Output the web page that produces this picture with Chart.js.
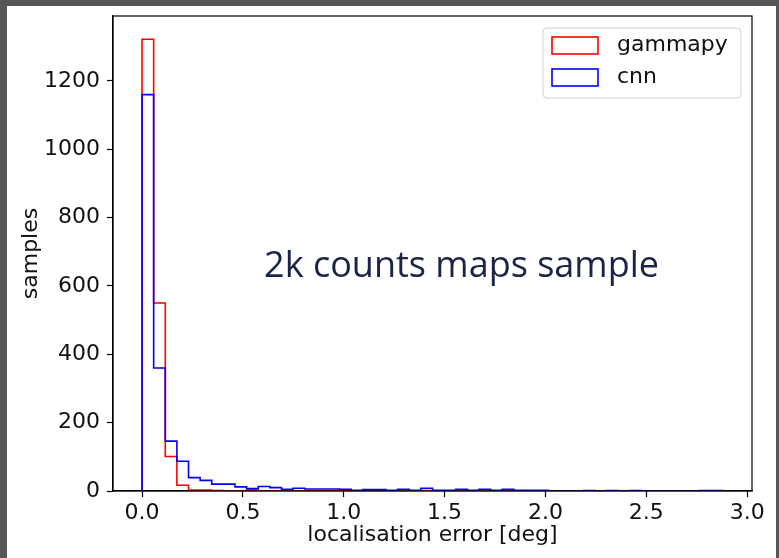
<!DOCTYPE html>
<html>
<head>
<meta charset="utf-8">
<script src="https://cdn.jsdelivr.net/npm/chart.js@4"></script>
<style>
    body { margin: 0; background: #565656; width: 779px; height: 558px; overflow: hidden; }
    #frame { position: absolute; left: 7px; top: 6px; width: 769px; height: 552px; background: #fff; }
</style>
</head>
<body>
<div id="frame"><canvas id="histChart" width="769" height="552"></canvas></div>
<script>
// histogram of localisation error, 50 bins between 0 and 2.88 deg
const binMin = 0;
const binMax = 2.88;
const binCount = 50;

const gammapyCounts = [1322, 550, 101, 17, 3, 3, 1, 0, 0, 3,
    0, 0, 0, 0, 0, 0, 0, 0, 0, 0,
    0, 0, 0, 0, 1, 0, 0, 0, 0, 0,
    0, 0, 0, 0, 0, 0, 0, 0, 0, 0,
    0, 0, 0, 0, 0, 0, 0, 0, 0, 0];
const cnnCounts = [1160, 360, 146, 87, 39, 31, 20, 20, 12, 7,
    13, 10, 5, 8, 6, 6, 6, 5, 2, 4,
    4, 2, 5, 2, 8, 2, 2, 5, 2, 5,
    2, 5, 2, 2, 2, 0, 0, 0, 1, 0,
    1, 0, 1, 0, 0, 0, 0, 0, 1, 1];

const seriesLabels = ['gammapy', 'cnn'];
const seriesColors = ['#ff0000', '#0000ff'];

const xTicks = [0, 0.5, 1.0, 1.5, 2.0, 2.5, 3.0];
const yTicks = [0, 200, 400, 600, 800, 1000, 1200];

const annotationText = '2k counts maps sample';
const annotationPos = { x: 0.605, y: 627 };

// step outline like matplotlib histtype='step'
function stepPoints(counts) {
    const w = (binMax - binMin) / binCount;
    const pts = [{ x: binMin, y: 0 }];
    counts.forEach((c, i) => pts.push({ x: binMin + i * w, y: c }));
    pts.push({ x: binMax, y: 0 });
    return pts;
}

const FONT = 'DejaVu Sans';
const TEXT = '#111';

// frame around the axes + annotation + legend inside the plot
const overlayPlugin = {
    id: 'overlay',
    afterDatasetsDraw(chart) {
        const ctx = chart.ctx;
        const a = chart.chartArea;
        const xs = chart.scales.x, ys = chart.scales.y;
        ctx.save();

        // annotation text
        ctx.fillStyle = '#1b2445';
        ctx.font = '36px "Open Sans"';
        ctx.textAlign = 'left';
        ctx.textBaseline = 'alphabetic';
        ctx.fillText(annotationText, xs.getPixelForValue(annotationPos.x), ys.getPixelForValue(annotationPos.y));

        // spines
        ctx.strokeStyle = '#000';
        ctx.lineWidth = 1.2;
        ctx.strokeRect(a.left, a.top, a.right - a.left, a.bottom - a.top);

        // legend
        const bw = 198, bh = 70;
        const bx = a.right - 11 - bw, by = a.top + 12;
        ctx.beginPath();
        ctx.roundRect(bx, by, bw, bh, 4);
        ctx.fillStyle = 'rgba(255,255,255,0.8)';
        ctx.fill();
        ctx.strokeStyle = '#d0d0d0';
        ctx.lineWidth = 1;
        ctx.stroke();

        ctx.font = '22px ' + FONT;
        ctx.textBaseline = 'middle';
        seriesLabels.forEach((lab, i) => {
            const sy = by + 9 + i * 32;
            ctx.strokeStyle = seriesColors[i];
            ctx.lineWidth = 1.6;
            ctx.strokeRect(bx + 9, sy, 46, 17);
            ctx.fillStyle = TEXT;
            ctx.fillText(lab, bx + 74, sy + 8.5);
        });
        ctx.restore();
    }
};

const ctx = document.getElementById('histChart').getContext('2d');
new Chart(ctx, {
    type: 'line',
    data: {
        datasets: [
            {
                label: seriesLabels[0],
                data: stepPoints(gammapyCounts),
                borderColor: seriesColors[0],
                borderWidth: 1.6,
                stepped: 'before',
                pointRadius: 0,
                fill: false,
                order: 1
            },
            {
                label: seriesLabels[1],
                data: stepPoints(cnnCounts),
                borderColor: seriesColors[1],
                borderWidth: 1.6,
                stepped: 'before',
                pointRadius: 0,
                fill: false,
                order: 0
            }
        ]
    },
    options: {
        responsive: false,
        animation: false,
        devicePixelRatio: 1,
        layout: { padding: { top: 0, right: 24, left: 0, bottom: 0 } },
        plugins: {
            legend: { display: false },
            tooltip: { enabled: false }
        },
        scales: {
            x: {
                type: 'linear',
                min: -0.144,
                max: 3.024,
                afterBuildTicks: s => { s.ticks = xTicks.map(v => ({ value: v })); },
                afterFit: s => { s.height = 67; },
                ticks: {
                    color: TEXT,
                    font: { family: FONT, size: 22 },
                    padding: 3,
                    maxRotation: 0,
                    callback: v => v.toFixed(1)
                },
                grid: { drawOnChartArea: false, tickLength: 6, tickColor: '#000', tickWidth: 1.2 },
                border: { color: '#000', width: 1.2 },
                title: {
                    display: true,
                    text: 'localisation error [deg]',
                    color: TEXT,
                    font: { family: FONT, size: 22 },
                    padding: { top: 0, bottom: 10 }
                }
            },
            y: {
                type: 'linear',
                min: 0,
                max: 1390,
                afterBuildTicks: s => { s.ticks = yTicks.map(v => ({ value: v })); },
                afterFit: s => { s.width = 106; s.paddingTop = 10; s.paddingBottom = 0; },
                ticks: {
                    color: TEXT,
                    font: { family: FONT, size: 22 },
                    padding: 7,
                    callback: v => String(v)
                },
                grid: { drawOnChartArea: false, tickLength: 6, tickColor: '#000', tickWidth: 1.2 },
                border: { color: '#000', width: 1.2 },
                title: {
                    display: true,
                    text: 'samples',
                    color: TEXT,
                    font: { family: FONT, size: 22 },
                    padding: { top: 11, bottom: 0 }
                }
            }
        }
    },
    plugins: [overlayPlugin]
});
</script>
</body>
</html>
